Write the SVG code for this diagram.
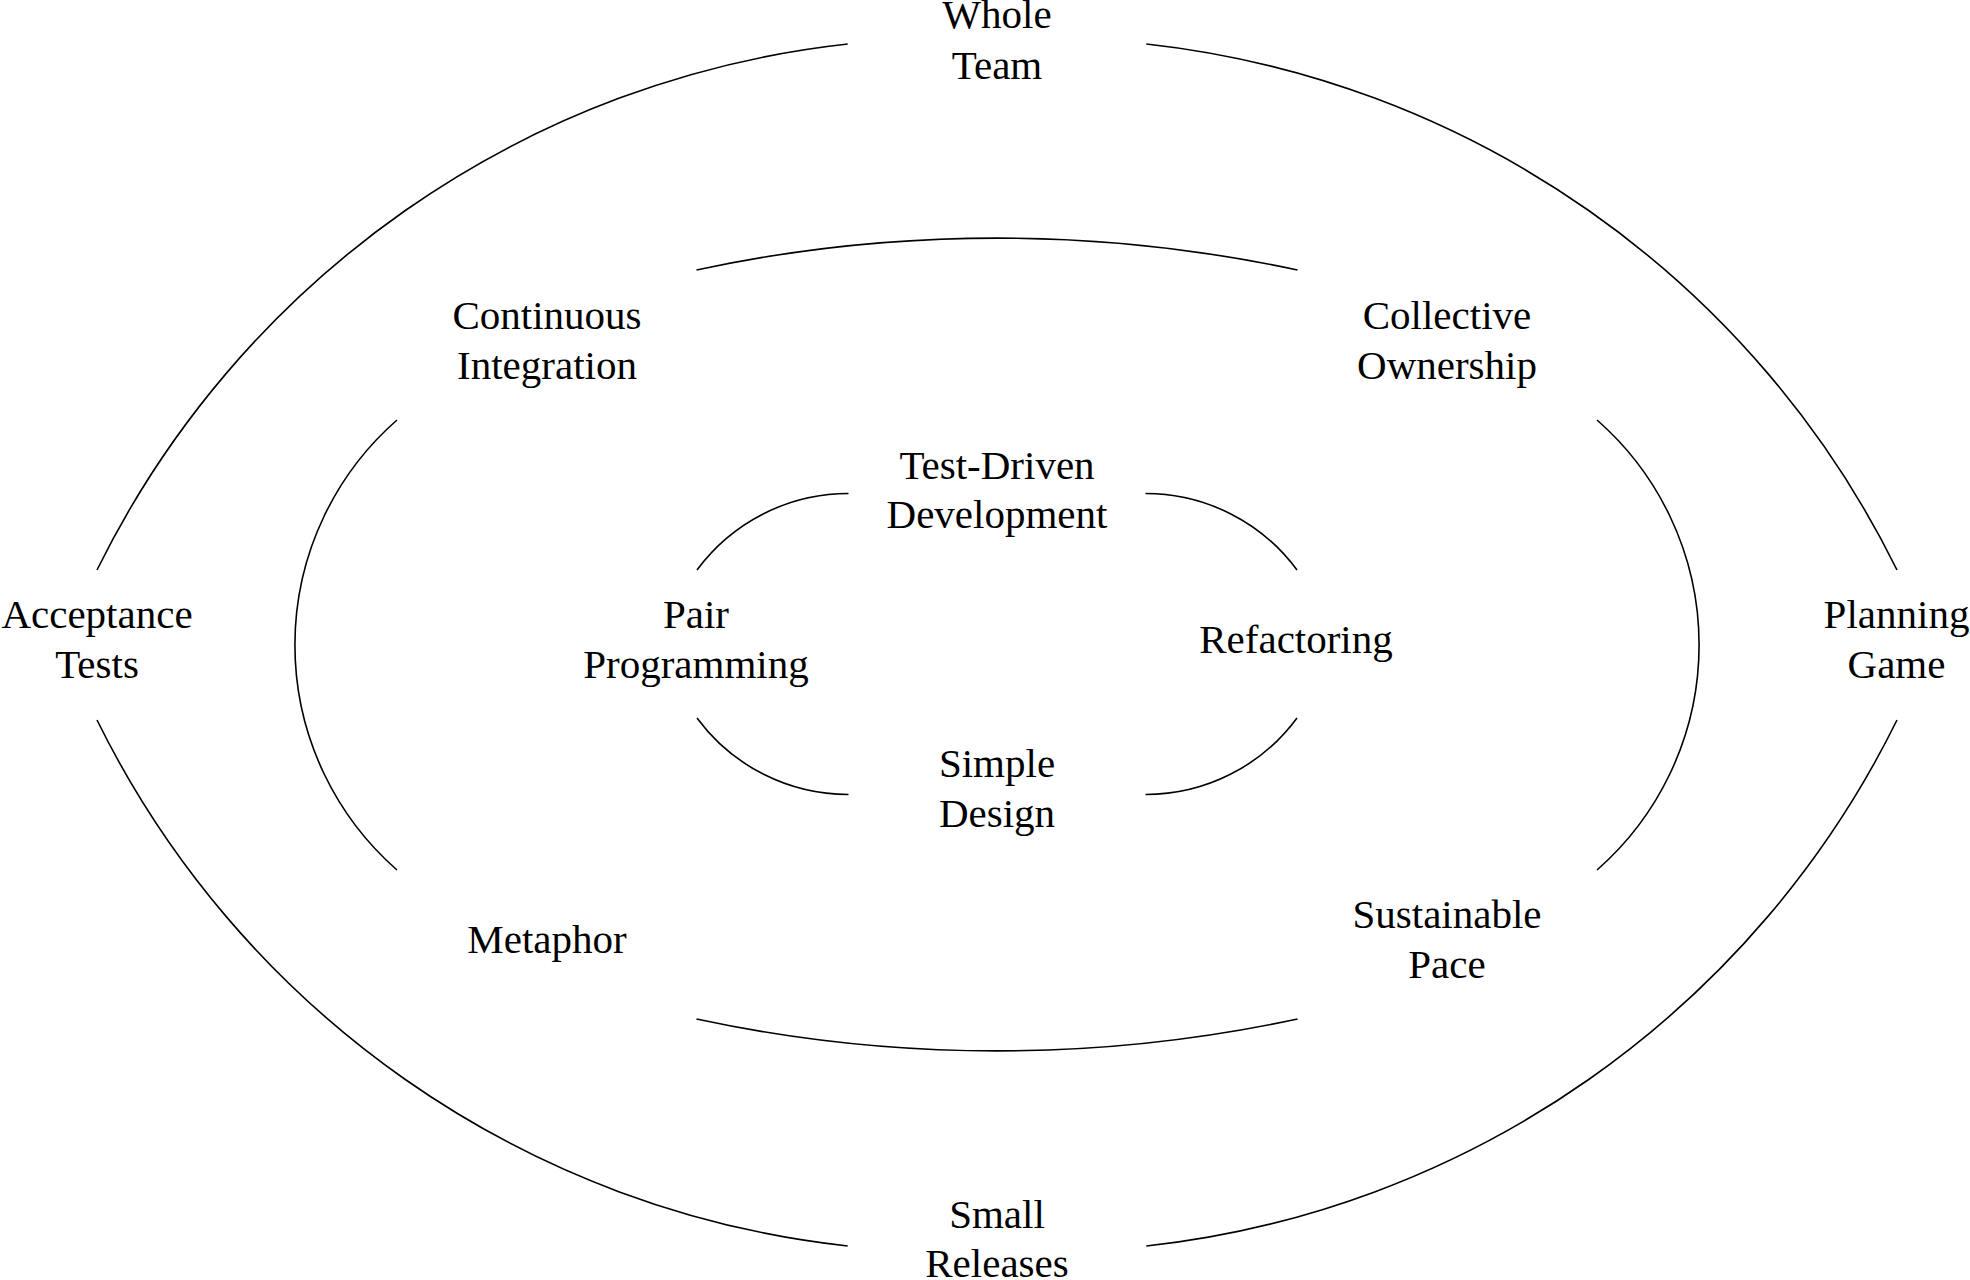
<svg xmlns="http://www.w3.org/2000/svg" width="1970" height="1280" viewBox="0 0 1970 1280">
<style>
  .arc { fill: none; stroke: #000; stroke-width: 1.6; }
  text { font-family: "Liberation Serif", "Times New Roman", serif; font-size: 41px; fill: #000; text-anchor: middle; }
</style>
<rect width="1970" height="1280" fill="#fff"/>
<g id="connectors">
  <!-- outer ring -->
  <path class="arc" d="M97,570 A952.6,952.6 0 0,1 847.7,44"/>
  <path class="arc" d="M1146.3,44 A952.6,952.6 0 0,1 1897,570"/>
  <path class="arc" d="M1897,720 A952.6,952.6 0 0,1 1146.3,1246"/>
  <path class="arc" d="M847.7,1246 A952.6,952.6 0 0,1 97,720"/>
  <!-- middle ring -->
  <path class="arc" d="M696.5,270 A1431,1431 0 0,1 1297.5,270"/>
  <path class="arc" d="M1597,420 A299,299 0 0,1 1597,870"/>
  <path class="arc" d="M1297.5,1019 A1431,1431 0 0,1 696.5,1019"/>
  <path class="arc" d="M397,870 A299,299 0 0,1 397,420"/>
  <!-- inner ring -->
  <path class="arc" d="M697,570 A188,188 0 0,1 848.5,493.5"/>
  <path class="arc" d="M1145.5,493.5 A188,188 0 0,1 1297,570"/>
  <path class="arc" d="M1297,718 A188,188 0 0,1 1145.5,794.5"/>
  <path class="arc" d="M848.5,794.5 A188,188 0 0,1 697,718"/>
</g>
<g id="whole-team"><text x="997" y="28">Whole</text><text x="997" y="79">Team</text></g>
<g id="acceptance-tests"><text x="97" y="628">Acceptance</text><text x="97" y="678">Tests</text></g>
<g id="planning-game"><text x="1896.5" y="628">Planning</text><text x="1896.5" y="678">Game</text></g>
<g id="small-releases"><text x="997" y="1228">Small</text><text x="997" y="1277">Releases</text></g>
<g id="continuous-integration"><text x="547" y="329">Continuous</text><text x="547" y="379">Integration</text></g>
<g id="collective-ownership"><text x="1447" y="329">Collective</text><text x="1447" y="379">Ownership</text></g>
<g id="metaphor"><text x="547" y="953">Metaphor</text></g>
<g id="sustainable-pace"><text x="1447" y="928">Sustainable</text><text x="1447" y="978">Pace</text></g>
<g id="test-driven-development"><text x="997" y="479">Test-Driven</text><text x="997" y="528">Development</text></g>
<g id="pair-programming"><text x="696" y="628">Pair</text><text x="696" y="678">Programming</text></g>
<g id="refactoring"><text x="1296" y="653">Refactoring</text></g>
<g id="simple-design"><text x="997" y="777">Simple</text><text x="997" y="827">Design</text></g>
</svg>
